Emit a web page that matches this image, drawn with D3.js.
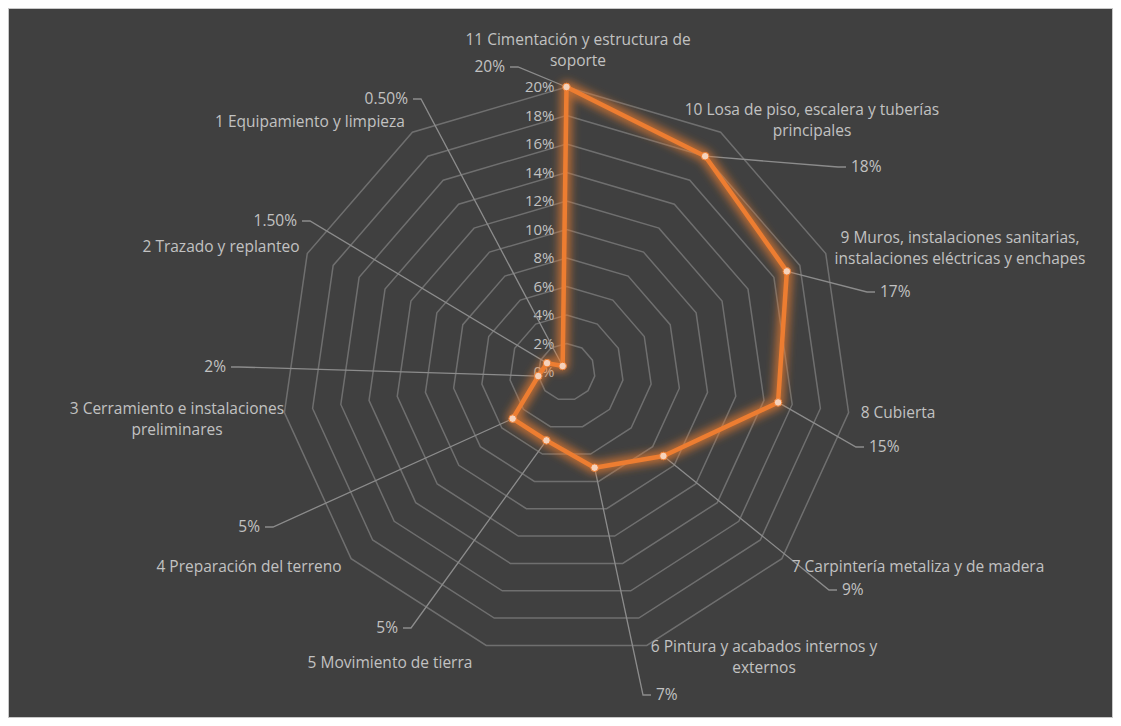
<!DOCTYPE html>
<html><head><meta charset="utf-8">
<script src="https://cdn.jsdelivr.net/npm/d3@7"></script>
<style>
html,body{margin:0;padding:0;background:#fff;}
svg{display:block;font-family:"Open Sans","Noto Sans",sans-serif;}
</style></head>
<body>
<svg id="chart" width="1121" height="726"></svg>
<script>
// ---- data ----
const categories = [
  "11 Cimentación y estructura de soporte",
  "10 Losa de piso, escalera y tuberías principales",
  "9 Muros, instalaciones sanitarias, instalaciones eléctricas y enchapes",
  "8 Cubierta",
  "7 Carpintería metaliza y de madera",
  "6 Pintura y acabados internos y externos",
  "5 Movimiento de tierra",
  "4 Preparación del terreno",
  "3 Cerramiento e instalaciones preliminares",
  "2 Trazado y replanteo",
  "1 Equipamiento y limpieza"
];
const categoryLines = [
  ["11 Cimentación y estructura de", "soporte"],
  ["10 Losa de piso, escalera y tuberías", "principales"],
  ["9 Muros, instalaciones sanitarias,", "instalaciones eléctricas y enchapes"],
  ["8 Cubierta"],
  ["7 Carpintería metaliza y de madera"],
  ["6 Pintura y acabados internos y", "externos"],
  ["5 Movimiento de tierra"],
  ["4 Preparación del terreno"],
  ["3 Cerramiento e instalaciones", "preliminares"],
  ["2 Trazado y replanteo"],
  ["1 Equipamiento y limpieza"]
];
const values = [20, 18, 17, 15, 9, 7, 5, 5, 2, 1.5, 0.5];
const valueLabels = ["20%", "18%", "17%", "15%", "9%", "7%", "5%", "5%", "2%", "1.50%", "0.50%"];
const tickValues = [0, 2, 4, 6, 8, 10, 12, 14, 16, 18, 20];
const tickLabels = ["0%", "2%", "4%", "6%", "8%", "10%", "12%", "14%", "16%", "18%", "20%"];

// ---- layout (label placement, as Excel placed them) ----
const categoryLabelLayout = [
  {x: 578, y: 40}, {x: 812, y: 110}, {x: 960, y: 238}, {x: 898, y: 413},
  {x: 918, y: 567}, {x: 764, y: 647}, {x: 390, y: 663}, {x: 249, y: 567},
  {x: 177, y: 409}, {x: 221, y: 247}, {x: 310, y: 122}
];
// side: "L" text to the left of its leader, "R" text to the right
const dataLabelLayout = [
  {x: 505, y: 67, side: "L"}, {x: 851, y: 167, side: "R"}, {x: 880, y: 292, side: "R"},
  {x: 869, y: 447, side: "R"}, {x: 842, y: 590, side: "R"}, {x: 656, y: 695, side: "R"},
  {x: 398, y: 628, side: "L"}, {x: 260, y: 527, side: "L"}, {x: 226, y: 367, side: "L"},
  {x: 297, y: 221, side: "L"}, {x: 408, y: 99, side: "L"}
];

const W = 1121, H = 726;
const cx = 566.5, cy = 372, R = 285;
const textColor = "#c2c2c2", gridColor = "#6f6f6f", leaderColor = "#8c8c8c", orange = "#ED7D31";
const fsCat = 15.5, fsData = 15.5, fsTick = 15;

const svg = d3.select("#chart");
svg.append("rect").attr("x", 8.5).attr("y", 8.5).attr("width", 1104).attr("height", 709)
  .attr("fill", "#404040").attr("stroke", "#c8c8c8").attr("stroke-width", 1);

const defs = svg.append("defs");
const f = defs.append("filter").attr("id", "glow").attr("x", "-20%").attr("y", "-20%").attr("width", "140%").attr("height", "140%");
f.append("feGaussianBlur").attr("stdDeviation", 4);

const n = categories.length;
const angle = d3.scaleBand().domain(d3.range(n)).range([0, 2 * Math.PI]).paddingInner(0).paddingOuter(0).align(0);
const r = d3.scaleLinear().domain([0, 20]).range([0, R]);
const pt = (i, v) => {
  const a = angle(i);
  return [cx + r(v) * Math.sin(a), cy - r(v) * Math.cos(a)];
};

const g = svg.append("g");
// grid rings
const ringLine = d3.line();
tickValues.filter(t => t > 0).forEach(t => {
  const pts = d3.range(n).map(i => pt(i, t));
  g.append("path").attr("d", ringLine(pts) + "Z")
    .attr("fill", "none").attr("stroke", gridColor).attr("stroke-width", 1.5);
});

// tick labels
g.selectAll("text.tick").data(tickValues).enter().append("text")
  .attr("class", "tick")
  .attr("x", cx - 12).attr("y", d => pt(0, d)[1])
  .attr("dy", "0.35em").attr("text-anchor", "end")
  .attr("fill", textColor).attr("font-size", fsTick)
  .text((d, i) => tickLabels[i]);

// leader lines
values.forEach((v, i) => {
  const p = pt(i, v);
  const L = dataLabelLayout[i];
  const e1 = L.side === "L" ? [L.x + 5, L.y] : [L.x - 5, L.y];
  const e2 = L.side === "L" ? [L.x + 13, L.y] : [L.x - 13, L.y];
  g.append("path").attr("d", d3.line()([e1, e2, p]))
    .attr("fill", "none").attr("stroke", leaderColor).attr("stroke-width", 1.3);
});

// series
const lineGen = d3.line().x((d, i) => pt(i, d)[0]).y((d, i) => pt(i, d)[1]).curve(d3.curveLinearClosed);
g.append("path").attr("d", lineGen(values))
  .attr("fill", "none").attr("stroke", orange).attr("stroke-opacity", 0.7)
  .attr("stroke-width", 12).attr("stroke-linejoin", "round").attr("filter", "url(#glow)");
g.append("path").attr("d", lineGen(values))
  .attr("fill", "none").attr("stroke", orange).attr("stroke-width", 4.5).attr("stroke-linejoin", "round");
g.selectAll("circle.m").data(values).enter().append("circle")
  .attr("class", "m")
  .attr("cx", (d, i) => pt(i, d)[0]).attr("cy", (d, i) => pt(i, d)[1])
  .attr("r", 3.8).attr("fill", "#f6d2bb").attr("stroke", orange).attr("stroke-width", 1);

// data labels
g.selectAll("text.dl").data(valueLabels).enter().append("text")
  .attr("class", "dl")
  .attr("x", (d, i) => dataLabelLayout[i].x).attr("y", (d, i) => dataLabelLayout[i].y)
  .attr("dy", "0.35em").attr("text-anchor", (d, i) => dataLabelLayout[i].side === "L" ? "end" : "start")
  .attr("fill", textColor).attr("font-size", fsData)
  .text(d => d);

// category labels
categoryLines.forEach((lines, i) => {
  const L = categoryLabelLayout[i];
  const t = g.append("text").attr("fill", textColor).attr("font-size", fsCat).attr("text-anchor", "middle");
  lines.forEach((ln, j) => {
    t.append("tspan").attr("x", L.x).attr("y", L.y + j * 21).attr("dy", "0.35em").text(ln);
  });
});
</script>
</body></html>
